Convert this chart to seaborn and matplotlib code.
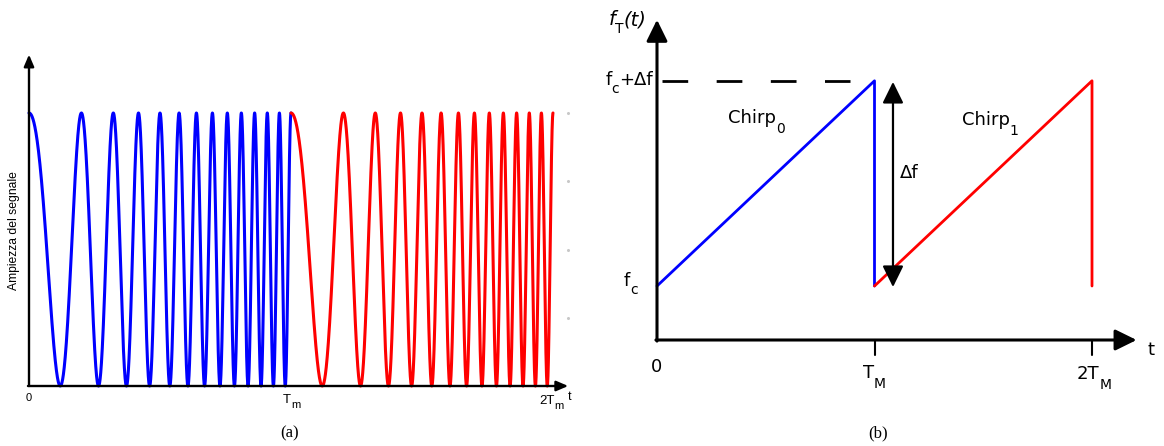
import numpy as np
import matplotlib
matplotlib.use("Agg")
import matplotlib.pyplot as plt
from matplotlib.transforms import offset_copy
import seaborn as sns

# Linear chirp: instantaneous frequency in cycles per ramp period T_m
f_start = 3.0
f_stop = 23.0
ramp_periods = [0, 1]          # blue ramp, red ramp
ramp_colors = ["#0000ff", "#ff0000"]

# Sawtooth frequency law (arbitrary units, f_c above the time axis)
f_c = 1.0
delta_f = 3.8
chirp0_t = [0.0, 1.0, 1.0]
chirp0_f = [f_c, f_c + delta_f, f_c]
chirp1_t = [1.0, 2.0, 2.0]
chirp1_f = [f_c, f_c + delta_f, f_c]

W, H = 1164, 446
sns.set_style("white")
plt.rcParams["font.family"] = ["DejaVu Sans"]
plt.rcParams["mathtext.fontset"] = "dejavusans"
plt.rcParams["lines.scale_dashes"] = False
plt.rcParams["text.color"] = "black"

fig = plt.figure(figsize=(W / 100, H / 100), dpi=100)
renderer = fig.canvas.get_renderer()


def box(l, t, r, b):
    return [l / W, 1 - b / H, (r - l) / W, (b - t) / H]


def sub_label(ax, x, y, main, sub, size, sub_size, drop, ha="left",
              family="DejaVu Sans", style="normal", trail=None,
              trail_rise=0.0):
    """Text with a dropped subscript (and optional trailing text),
    anchored on the main baseline."""
    pieces = [(main, size, 0.0, style), (sub, sub_size, -drop, "normal")]
    if trail:
        pieces.append((trail, size, trail_rise, style))
    objs, widths = [], []
    for s, fs, dy, st in pieces:
        t = ax.text(x, y, s, fontsize=fs, family=family, style=st,
                    ha="left", va="baseline", color="black")
        widths.append(t.get_window_extent(renderer).width)
        objs.append((t, dy))
    total = sum(widths)
    start = {"left": 0.0, "center": -total / 2, "right": -total}[ha]
    cur = start
    for (t, dy), w in zip(objs, widths):
        t.set_transform(offset_copy(ax.transData, fig=fig, x=cur, y=dy,
                                    units="dots"))
        cur += w
    return objs


# ---------------- (a) chirp waveform ----------------
ax1 = fig.add_axes(box(0, 40, 590, 420))
ax1.set_xlim((0 - 29) / 262, (590 - 29) / 262)
ax1.set_ylim((386 - 420) / 273, (386 - 40) / 273)
ax1.axis("off")

tau = np.linspace(0, 1, 4001)
phase = 2 * np.pi * (f_start * tau + 0.5 * (f_stop - f_start) * tau ** 2)
amp = 0.5 * (1 + np.cos(phase))
for k, col in zip(ramp_periods, ramp_colors):
    sns.lineplot(x=k + tau, y=amp, ax=ax1, color=col, lw=2.2,
                 sort=False, estimator=None)

small_arrow = dict(arrowstyle="-|>,head_length=0.7,head_width=0.3",
                   mutation_scale=10, lw=1.7, color="black",
                   shrinkA=0, shrinkB=0)
ax1.annotate("", xy=(0, 1.214), xytext=(0, 0), arrowprops=small_arrow)
ax1.annotate("", xy=(2.058, 0), xytext=(-0.004, 0), arrowprops=small_arrow)

# faint ticks of the right frame
ax1.plot([2.058] * 4, [1.0, 0.75, 0.5, 0.25], ls="none", marker="o",
         ms=1.2, color="#c8c8c8")

lab = dict(family="Liberation Sans")
ax1.text(0, -0.045, "0", ha="center", va="center", fontsize=8, **lab)
sub_label(ax1, 1.002, -0.062, "T", "m", 9.5, 8, 5, ha="center", **lab)
sub_label(ax1, 1.994, -0.065, "2T", "m", 9.5, 8, 5, ha="center", **lab)
ax1.text(2.057, -0.051, "t", ha="left", va="baseline", fontsize=9, **lab)
ax1.text(-0.058, 0.571, "Ampiezza del segnale", rotation=90,
         ha="center", va="center", fontsize=8.7, **lab)

# ---------------- (b) frequency ramp ----------------
ax2 = fig.add_axes(box(590, 0, 1164, 420))
ax2.set_xlim((590 - 657) / 217.5, (1164 - 657) / 217.5)
ax2.set_ylim((340 - 420) / 54, (340 - 0) / 54)
ax2.axis("off")

sns.lineplot(x=chirp0_t, y=chirp0_f, ax=ax2, color="#0000ff", lw=2.0,
             sort=False, estimator=None)
sns.lineplot(x=chirp1_t, y=chirp1_f, ax=ax2, color="#ff0000", lw=2.0,
             sort=False, estimator=None)

big_arrow = dict(arrowstyle="-|>,head_length=0.65,head_width=0.32",
                 mutation_scale=20, lw=2.2, color="black",
                 shrinkA=0, shrinkB=0)
ax2.annotate("", xy=(0, 5.93), xytext=(0, -0.02), arrowprops=big_arrow)
ax2.annotate("", xy=(2.205, 0), xytext=(-0.005, 0), arrowprops=big_arrow)
ax2.annotate("", xy=(1.085, f_c + delta_f - 0.02), xytext=(1.085, f_c - 0.02),
             arrowprops=dict(big_arrow, lw=1.6,
                             arrowstyle="<|-|>,head_length=0.65,head_width=0.32"))

for xt in (1.0, 2.0):
    ax2.plot([xt, xt], [0, -0.27], color="black", lw=1.5)

dash, = ax2.plot([0.023, 0.887], [f_c + delta_f] * 2, color="black", lw=2.0)
dash.set_dashes([18.5, 20.5])

R = dict(family="DejaVu Sans")
sub_label(ax2, -0.135, (340 - 25) / 54, "f", "T", 14, 10, 8, ha="center",
          style="italic", trail="(t)", **R)
sub_label(ax2, -0.02, (340 - 85) / 54, "f", "c", 13, 10, 8, ha="right",
          trail="+Δf", **R)
sub_label(ax2, -0.088, f_c, "f", "c", 13, 10, 8, ha="right", **R)
ax2.text(0.0, (340 - 372) / 54, "0", ha="center", va="baseline",
         fontsize=13, **R)
sub_label(ax2, 1.0, (340 - 378) / 54, "T", "M", 13, 10, 10, ha="center", **R)
sub_label(ax2, 2.01, (340 - 379) / 54, "2T", "M", 13, 10, 10, ha="center", **R)
ax2.text(2.273, (340 - 355) / 54, "t", ha="center", va="baseline",
         fontsize=13, **R)
sub_label(ax2, 0.326, (340 - 123) / 54, "Chirp", "0", 13, 10, 10, **R)
sub_label(ax2, 1.402, (340 - 125) / 54, "Chirp", "1", 13, 10, 10, **R)
ax2.text(1.117, (340 - 178) / 54, "Δf", ha="left", va="baseline",
         fontsize=13, **R)

# captions
cap = dict(family="Liberation Serif", fontsize=12, ha="center", va="center")
fig.text(290 / W, 1 - 433 / H, "(a)", **cap)
fig.text(878 / W, 1 - 433 / H, "(b)", **cap)

fig.savefig("out.png", dpi=100)
